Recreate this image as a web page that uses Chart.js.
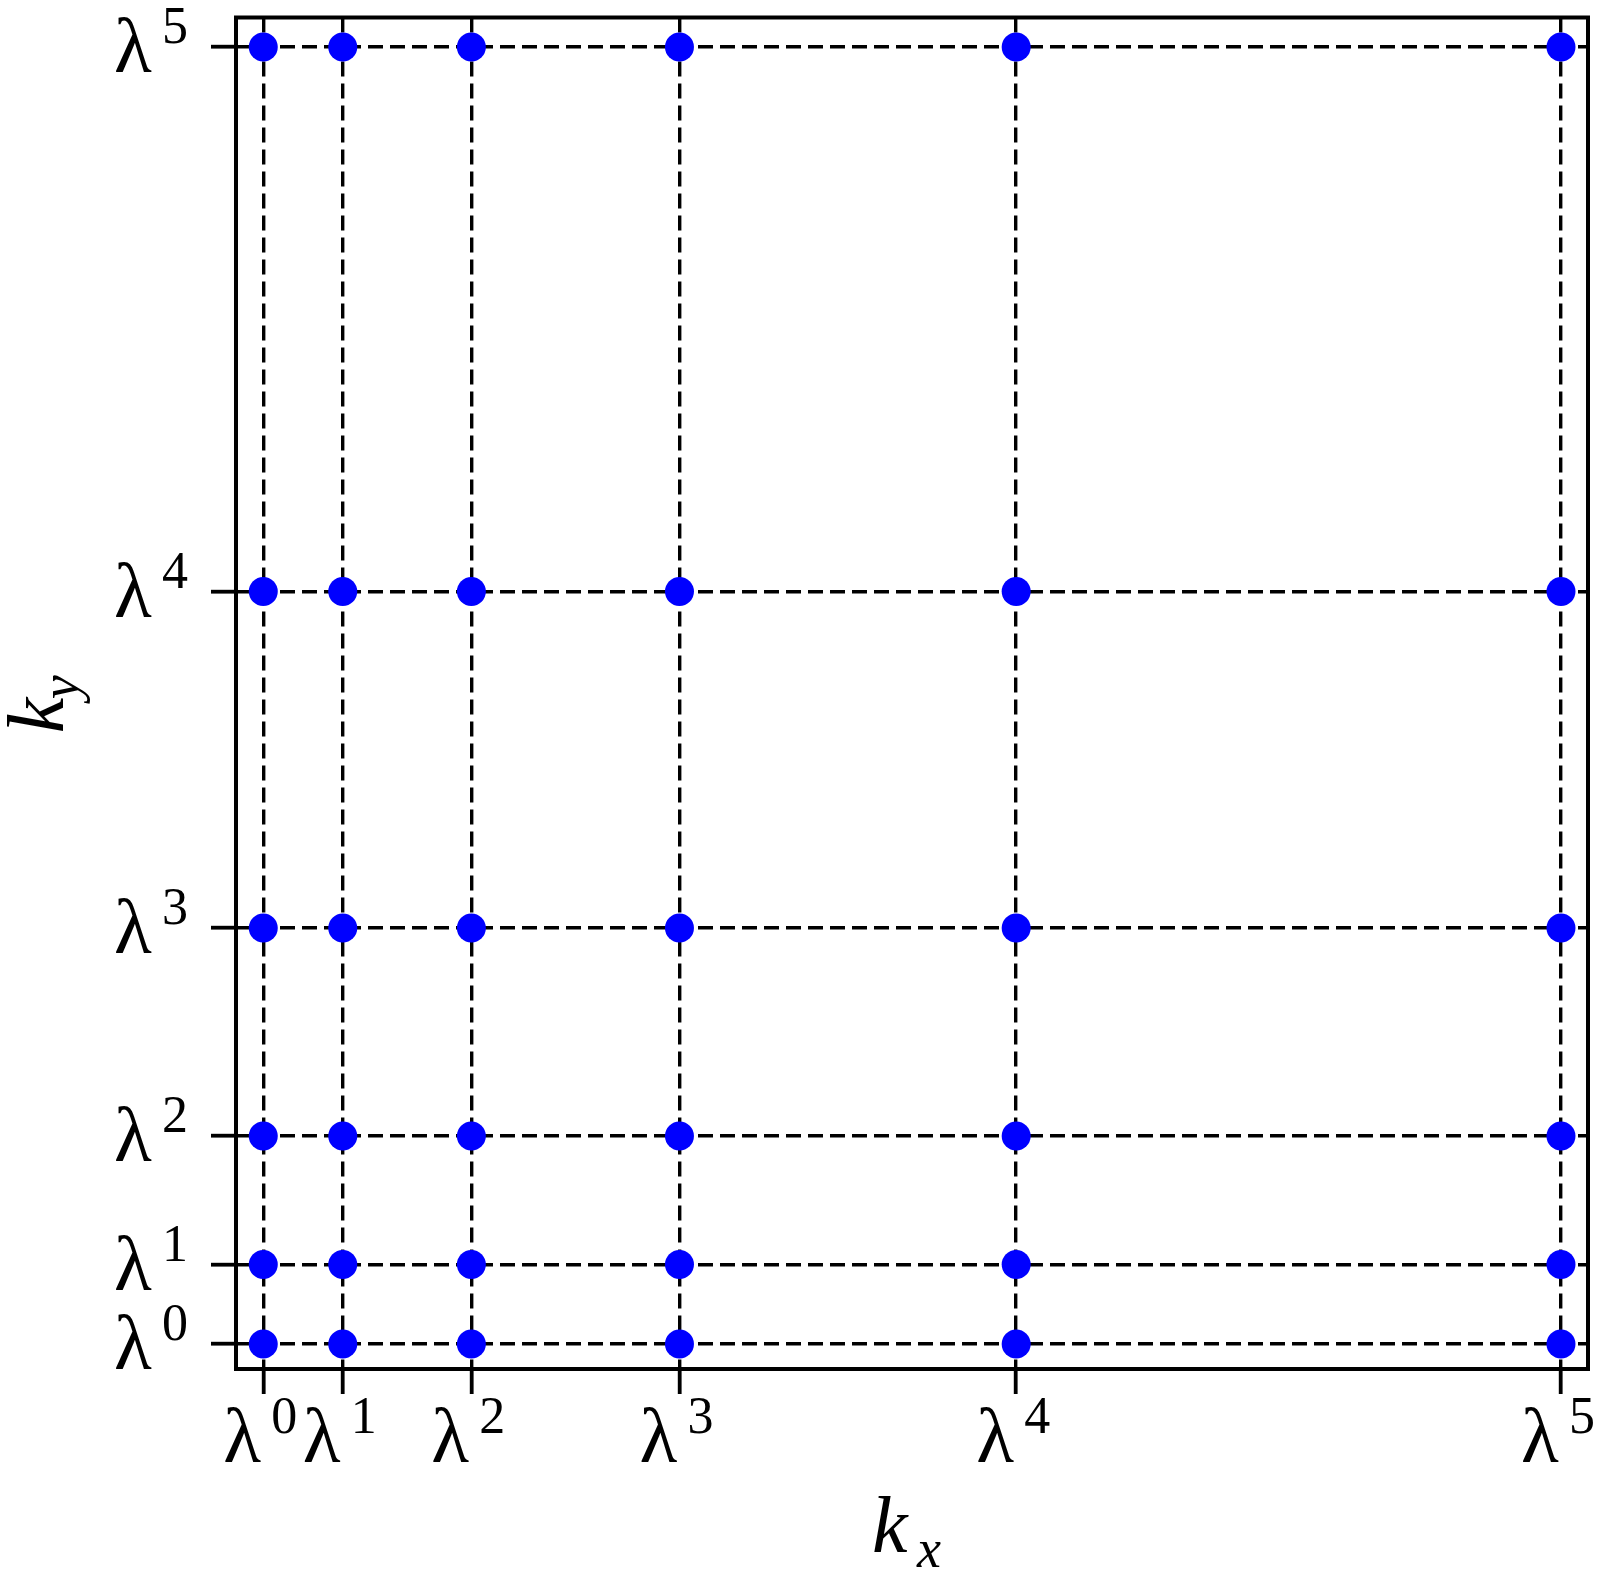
<!DOCTYPE html>
<html>
<head>
<meta charset="utf-8">
<script src="https://cdn.jsdelivr.net/npm/chart.js@4"></script>
<style>
  body { margin: 0; background: #fff; }
  canvas { display: block; }
</style>
</head>
<body>
<canvas id="gridChart" width="1600" height="1575"></canvas>
<script>
// grid positions, lambda^k (lambda = golden ratio)
const kxValues = [1, 1.618, 2.618, 4.236, 6.854, 11.09];
const kyValues = [1, 1.618, 2.618, 4.236, 6.854, 11.09];
const kxExponents = ["0", "1", "2", "3", "4", "5"];
const kyExponents = ["0", "1", "2", "3", "4", "5"];
const tickBase = "λ";
const xTitle = ["k", "x"];
const yTitle = ["k", "y"];

const serif = '"Liberation Serif", "DejaVu Serif", serif';

// every (kx, ky) pair becomes one dot
const points = [];
kxValues.forEach((x) => {
  kyValues.forEach((y) => points.push({ x: x, y: y }));
});

// ========== Labels, titles and frame ==========
const labelPlugin = {
  id: "mathLabels",
  afterDatasetsDraw(chart) {
    const ctx = chart.ctx;
    const area = chart.chartArea;
    const xs = chart.scales.x;
    const ys = chart.scales.y;

    ctx.save();
    // frame
    ctx.strokeStyle = "#000";
    ctx.lineWidth = 4;
    ctx.strokeRect(area.left, area.top, area.right - area.left, area.bottom - area.top);

    ctx.fillStyle = "#000";
    ctx.textAlign = "left";
    ctx.textBaseline = "alphabetic";

    // x tick labels
    kxValues.forEach((v, i) => {
      const px = xs.getPixelForValue(v);
      ctx.font = "78px " + serif;
      ctx.fillText(tickBase, px - 40, area.bottom + 93);
      ctx.font = "52px " + serif;
      ctx.fillText(kxExponents[i], px + 8, area.bottom + 64);
    });

    // y tick labels
    kyValues.forEach((v, i) => {
      const py = ys.getPixelForValue(v);
      ctx.font = "78px " + serif;
      ctx.fillText(tickBase, area.left - 122, py + 25);
      ctx.font = "52px " + serif;
      ctx.fillText(kyExponents[i], area.left - 74, py - 4);
    });

    // x title
    const cx = (area.left + area.right) / 2;
    ctx.font = "italic 80px " + serif;
    ctx.fillText(xTitle[0], cx - 40, 1552);
    ctx.font = "italic 54px " + serif;
    ctx.fillText(xTitle[1], cx + 5, 1567);

    // y title, rotated
    const cy = (area.top + area.bottom) / 2;
    ctx.translate(63, cy);
    ctx.rotate(-Math.PI / 2);
    ctx.font = "italic 80px " + serif;
    ctx.fillText(yTitle[0], -40, 0);
    ctx.font = "italic 54px " + serif;
    ctx.fillText(yTitle[1], -6, 15);
    ctx.restore();
  },
};

function axisOptions(values, lo, hi) {
  return {
    type: "linear",
    min: lo,
    max: hi,
    afterBuildTicks: (scale) => {
      scale.ticks = values.map((v) => ({ value: v }));
    },
    ticks: { display: false },
    grid: {
      color: "#000",
      lineWidth: 3.4,
      drawTicks: true,
      tickLength: 25,
      tickWidth: 3.8,
      tickColor: "#000",
    },
    border: { display: false, dash: [15, 7] },
    title: { display: false },
  };
}

const ctx = document.getElementById("gridChart").getContext("2d");
new Chart(ctx, {
  type: "scatter",
  data: {
    datasets: [
      {
        data: points,
        pointRadius: 14.5,
        pointHoverRadius: 14.5,
        backgroundColor: "#0000ff",
        borderWidth: 0,
        clip: false,
      },
    ],
  },
  options: {
    responsive: false,
    animation: false,
    events: [],
    layout: {
      autoPadding: false,
      padding: { left: 211, top: 17.5, right: 12, bottom: 181 },
    },
    plugins: {
      legend: { display: false },
      tooltip: { enabled: false },
    },
    scales: {
      x: axisOptions(kxValues, 0.788, 11.3),
      y: axisOptions(kyValues, 0.805, 11.32),
    },
  },
  plugins: [labelPlugin],
});
</script>
</body>
</html>
